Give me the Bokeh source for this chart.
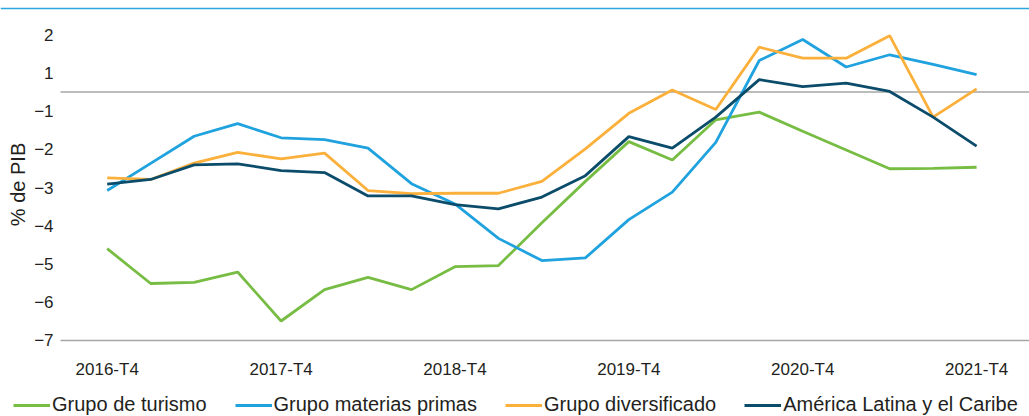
import math
from bokeh.plotting import figure
from bokeh.models import Span, Legend, LegendItem, Range1d
from bokeh.core.properties import value
from bokeh.embed import file_html
from bokeh.resources import INLINE

quarters = [
    "2016-T4", "2017-T1", "2017-T2", "2017-T3", "2017-T4",
    "2018-T1", "2018-T2", "2018-T3", "2018-T4",
    "2019-T1", "2019-T2", "2019-T3", "2019-T4",
    "2020-T1", "2020-T2", "2020-T3", "2020-T4",
    "2021-T1", "2021-T2", "2021-T3", "2021-T4",
]
turismo = [-4.60, -5.51, -5.48, -5.21, -6.49, -5.67, -5.35, -5.67, -5.07, -5.04,
           -3.92, -2.84, -1.80, -2.28, -1.23, -1.03, -1.53, -2.02, -2.51, -2.50, -2.47]
materias_primas = [-3.08, -2.37, -1.66, -1.33, -1.70, -1.75, -1.97, -2.90, -3.43, -4.33,
                   -4.91, -4.84, -3.84, -3.12, -1.82, 0.32, 0.87, 0.15, 0.47, 0.22, -0.05]
diversificado = [-2.75, -2.79, -2.36, -2.08, -2.25, -2.10, -3.08, -3.16, -3.15, -3.15,
                 -2.84, -1.99, -1.06, -0.45, -0.96, 0.67, 0.38, 0.38, 0.97, -1.16, -0.42]
america_latina = [-2.91, -2.79, -2.41, -2.38, -2.56, -2.61, -3.22, -3.22, -3.45, -3.56,
                  -3.25, -2.69, -1.67, -1.97, -1.16, -0.18, -0.36, -0.27, -0.49, -1.16, -1.92]

series_names = ["Grupo de turismo", "Grupo materias primas", "Grupo diversificado",
                "América Latina y el Caribe"]
series_colors = ["#77BC43", "#1FA2DE", "#FBB03B", "#0B4C6B"]

x_tick_positions = [0, 4, 8, 12, 16, 20]
y_tick_positions = [-7, -6, -5, -4, -3, -2, -1, 0, 1]
y_tick_labels = ["\u22127", "\u22126", "\u22125", "\u22124", "\u22123", "\u22122", "\u22121", "1", "2"]
y_axis_title = "% de PIB"
zero_line_position = -0.5
axis_base = -7

FONT = "Liberation Sans"
TEXT = "#231F20"
GRAY = "#A6A6A6"

# layout constants (data units of the plot frame)
X_START, X_END = -2.4546, 21.217
Y_START, Y_END = -8.987, 1.889
PLOT_LEFT = -1.074          # where the reference lines begin
YLAB_X = -1.235             # right edge of the y tick labels
YTITLE_X, YTITLE_Y = -2.052, -2.92
XLAB_Y = -7.76
TOP_RULE_Y = 1.68

x = list(range(len(quarters)))

p = figure(width=1029, height=416, output_backend="svg", toolbar_location=None,
           x_range=Range1d(X_START, X_END), y_range=Range1d(Y_START, Y_END),
           x_axis_type=None, y_axis_type=None,
           min_border_left=0, min_border_right=0, min_border_top=0, min_border_bottom=0)
p.outline_line_color = None
p.background_fill_color = "white"
p.border_fill_color = "white"

# top decorative rule
p.add_layout(Span(location=TOP_RULE_Y, dimension="width", line_color="#29A8E0", line_width=1.6))

# zero line and base line
p.segment(x0=[PLOT_LEFT, PLOT_LEFT], x1=[X_END, X_END],
          y0=[zero_line_position, axis_base], y1=[zero_line_position, axis_base],
          line_color=GRAY, line_width=1.5)

renderers = []
for vals, col in zip([turismo, materias_primas, diversificado, america_latina], series_colors):
    r = p.line(x, vals, line_color=col, line_width=2.8)
    renderers.append(r)

# y tick labels
p.text(x=[YLAB_X] * len(y_tick_positions), y=y_tick_positions, text=y_tick_labels,
       text_font=value(FONT), text_font_size="17px", text_color=TEXT,
       text_align="right", text_baseline="middle")
# y axis title
p.text(x=[YTITLE_X], y=[YTITLE_Y], text=[y_axis_title], angle=math.pi / 2,
       text_font=value(FONT), text_font_size="20px", text_color=TEXT,
       text_align="center", text_baseline="middle")
# x tick labels
p.text(x=x_tick_positions, y=[XLAB_Y] * len(x_tick_positions),
       text=[quarters[i] for i in x_tick_positions],
       text_font=value(FONT), text_font_size="17px", text_color=TEXT,
       text_align="center", text_baseline="middle")

legend = Legend(items=[LegendItem(label=n, renderers=[r]) for n, r in zip(series_names, renderers)],
                location=(13, 0), orientation="horizontal",
                glyph_width=37, glyph_height=20, label_height=20, label_standoff=2, spacing=28,
                padding=0, margin=0, border_line_color=None, background_fill_alpha=0,
                label_text_font=FONT, label_text_font_size="20px", label_text_color=TEXT)
p.add_layout(legend)

open("out.html", "w").write(file_html(p, INLINE))
